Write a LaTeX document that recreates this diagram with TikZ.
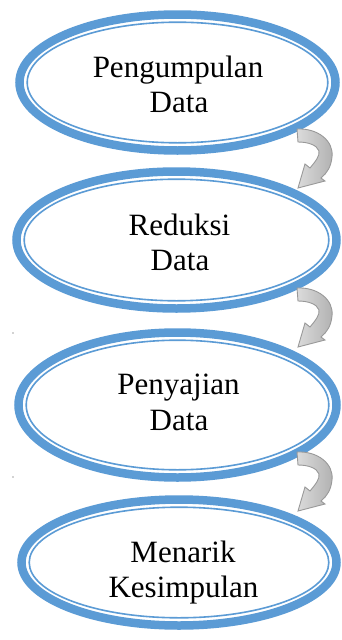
\documentclass[tikz,border=0pt]{standalone}
\usepackage{fontspec}
\setmainfont{Liberation Serif}
\usetikzlibrary{shapes.geometric}
\definecolor{ovalblue}{HTML}{5B9BD5}
\tikzset{
  oval/.style={ellipse, draw=ovalblue, line width=8.5pt, inner sep=0pt, fill=white},
  innerline/.style={draw=ovalblue, line width=1.6pt},
  lbl/.style={font=\fontsize{31}{35}\selectfont, inner sep=0pt, anchor=base, text=black},
  arrowfill/.style={draw=gray!80, line width=0.9pt, left color=gray!28, right color=gray!62},
  bendarrow/.pic={
    \path[arrowfill] (297,0) .. controls (318,-1) and (334,12) .. (332,28)
      .. controls (331,38) and (327,44) .. (321,49) -- (325,52) -- (298,59)
      -- (305,35) -- (310,39) .. controls (315,33) and (320,27) .. (319,22)
      .. controls (317,16) and (308,13) .. (298,13) -- cycle;
  }
}
\begin{document}
\begin{tikzpicture}[x=1pt,y=-1pt]
\useasboundingbox[fill=white] (0,0) rectangle (341,640);
% ovals
\node[oval, minimum width=316pt, minimum height=136pt] (e1) at (177.5,82.5) {};
\draw[innerline] (e1.center) ellipse [x radius=150.3pt, y radius=60.3pt];
\node[oval, minimum width=320pt, minimum height=137pt] (e2) at (176.5,240) {};
\draw[innerline] (e2.center) ellipse [x radius=152.3pt, y radius=60.8pt];
\node[oval, minimum width=318pt, minimum height=145pt] (e3) at (177.5,405) {};
\draw[innerline] (e3.center) ellipse [x radius=151.3pt, y radius=64.8pt];
\node[oval, minimum width=315pt, minimum height=126pt] (e4) at (179,562.5) {};
\draw[innerline] (e4.center) ellipse [x radius=149.8pt, y radius=55.3pt];
% texts
\node[lbl] (t1a) at (178,77) {Pengumpulan};
\node[lbl] (t1b) at (179,112) {Data};
\node[lbl] (t2a) at (179.5,235) {Reduksi};
\node[lbl] (t2b) at (180,270) {Data};
\node[lbl] (t3a) at (178.5,394) {Penyajian};
\node[lbl] (t3b) at (179,430) {Data};
\node[lbl] (t4a) at (183,562) {Menarik};
\node[lbl] (t4b) at (183.5,597) {Kesimpulan};
% bent arrows
\pic at (0,129) {bendarrow};
\pic at (0,288) {bendarrow};
\pic at (0,452) {bendarrow};
% stray dots
\fill[gray!70] (13,333) circle (0.8pt);
\fill[gray!70] (13,477) circle (0.8pt);
\end{tikzpicture}
\end{document}
